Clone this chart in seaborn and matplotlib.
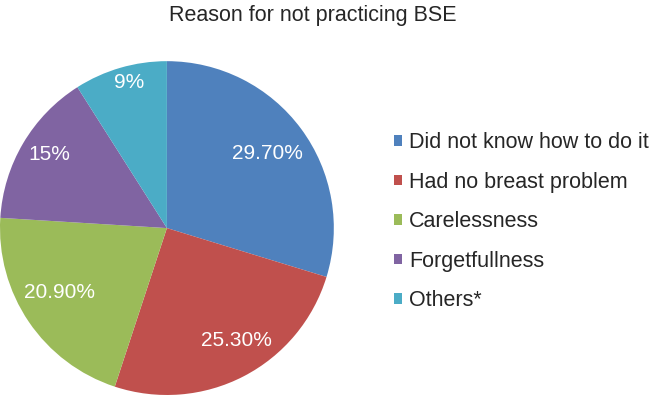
import matplotlib.pyplot as plt
import seaborn as sns
import numpy as np
from matplotlib.patches import Patch

sns.set_style("white")
plt.rcParams['font.family'] = ['Liberation Sans', 'DejaVu Sans']

reasons = ["Did not know how to do it", "Had no breast problem", "Carelessness",
           "Forgetfullness", "Others*"]
percent = [29.7, 25.3, 20.9, 15, 9]
pct_labels = ["29.70%", "25.30%", "20.90%", "15%", "9%"]

colors = ["#4F81BD", "#C0504D", "#9BBB59", "#8064A2", "#4BACC6"]
# label placement relative to wedge middle (radius fraction, angle nudge in deg), excel best fit
lab_r = [0.75, 0.79, 0.75, 0.83, 0.9]
lab_nudge = [0, 4.5, -3, -1.5, -1.7]

fig = plt.figure(figsize=(6.52, 3.97), dpi=100)
ax = fig.add_axes([0.0, 0.005, 0.512, 0.841])
wedges, _ = ax.pie(percent, colors=colors, startangle=90, counterclock=False,
                   wedgeprops=dict(linewidth=0))
ax.set_aspect("equal")
ax.set_xlim(-1, 1)
ax.set_ylim(-1, 1)

for w, txt, r, dn in zip(wedges, pct_labels, lab_r, lab_nudge):
    t = np.deg2rad((w.theta1 + w.theta2) / 2 + dn)
    ax.text(r * np.cos(t), r * np.sin(t), txt, color="white", fontsize=15,
            ha="center", va="center")

fig.text(0.48, 0.962, "Reason for not practicing BSE", ha="center", va="center", fontsize=15.5)

handles = [Patch(facecolor=c, edgecolor="none") for c in colors]
fig.legend(handles, reasons, loc="upper left", bbox_to_anchor=(0.604, 0.667),
           frameon=False, fontsize=15.5, handlelength=0.4, handleheight=0.4,
           handletextpad=0.3, labelspacing=0.86, borderaxespad=0, borderpad=0)

fig.savefig("out.png", dpi=100)
